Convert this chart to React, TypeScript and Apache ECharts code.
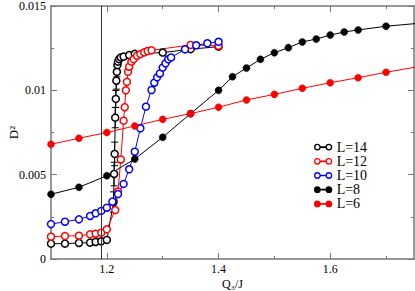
import React, { useEffect, useRef } from "react";
import * as echarts from "echarts";

// ---- data ----
const L14X = [1.1, 1.125, 1.15, 1.17, 1.18, 1.19, 1.2, 1.212, 1.213, 1.214, 1.215, 1.216, 1.217, 1.218, 1.219, 1.22, 1.222, 1.225, 1.23, 1.24, 1.25, 1.3, 1.35, 1.4];
const L14Y = [0.00091, 0.00091, 0.00095, 0.00097, 0.00101, 0.00105, 0.00113, 0.00338, 0.00504, 0.00623, 0.00838, 0.00949, 0.01057, 0.0111, 0.0115, 0.0117, 0.01185, 0.01195, 0.012, 0.01209, 0.01216, 0.01224, 0.01244, 0.01259];
const L14E = [0, 0, 0, 0, 0, 0, 0, 0.0006, 0.0007, 0.0007, 0.0006, 0.0005, 0.0005, 0.0003, 0, 0, 0, 0, 0, 0, 0, 0, 0, 0];

const L12X = [1.1, 1.125, 1.15, 1.17, 1.18, 1.19, 1.2, 1.215, 1.22, 1.225, 1.23, 1.232, 1.234, 1.236, 1.238, 1.24, 1.244, 1.248, 1.254, 1.26, 1.267, 1.273, 1.28, 1.35, 1.4];
const L12Y = [0.00132, 0.00136, 0.00138, 0.00146, 0.0015, 0.00156, 0.00176, 0.0029, 0.004, 0.0059, 0.0082, 0.009, 0.01, 0.0105, 0.0111, 0.0114, 0.0117, 0.01185, 0.01205, 0.01215, 0.01225, 0.01233, 0.01237, 0.01269, 0.01264];

const L10X = [1.1, 1.125, 1.15, 1.17, 1.18, 1.19, 1.2, 1.21, 1.22, 1.23, 1.24, 1.25, 1.26, 1.27, 1.28, 1.285, 1.29, 1.295, 1.3, 1.305, 1.31, 1.315, 1.34, 1.36, 1.38, 1.4];
const L10Y = [0.00207, 0.00221, 0.00235, 0.00255, 0.00271, 0.00285, 0.00304, 0.0034, 0.00385, 0.00445, 0.00532, 0.00636, 0.00775, 0.00903, 0.01002, 0.01045, 0.01077, 0.011, 0.01135, 0.0116, 0.01184, 0.01195, 0.01243, 0.01267, 0.01279, 0.01288];

const L8X = [1.1, 1.15, 1.2, 1.25, 1.3, 1.35, 1.4, 1.425, 1.45, 1.475, 1.5, 1.525, 1.55, 1.575, 1.6, 1.625, 1.65, 1.7, 1.8];
const L8Y = [0.00384, 0.00425, 0.00494, 0.00593, 0.00722, 0.00862, 0.01, 0.01081, 0.01132, 0.01184, 0.01223, 0.01253, 0.01287, 0.01304, 0.01328, 0.01346, 0.01358, 0.0138, 0.0141];

const L6X = [1.1, 1.15, 1.2, 1.25, 1.3, 1.35, 1.4, 1.45, 1.5, 1.55, 1.6, 1.65, 1.7, 1.8];
const L6Y = [0.0068, 0.00716, 0.0075, 0.00789, 0.00828, 0.00862, 0.009, 0.00943, 0.00976, 0.01012, 0.01045, 0.01075, 0.01107, 0.01165];

const LEGEND_NAMES = ["L=14", "L=12", "L=10", "L=8", "L=6"];
const X_MAJOR = [1.2, 1.4, 1.6];
const X_MINOR = [1.3, 1.5, 1.7];
const VLINE_X = 1.1936;

const FONT = "'Liberation Serif', 'Times New Roman', serif";
const AXIS_COLOR = "#777";
const LEGEND_ICON =
  "path://M0.4,3a2.6,2.6 0 1,0 5.2,0a2.6,2.6 0 1,0 -5.2,0ZM11.4,3a2.6,2.6 0 1,0 5.2,0a2.6,2.6 0 1,0 -5.2,0ZM5.6,2.8h5.8v0.4h-5.8Z";

const zip = (xs: number[], ys: number[]) => xs.map((x, i) => [x, ys[i]]);

function openSeries(name: string, xs: number[], ys: number[], color: string, extra: any = {}) {
  return {
    name,
    type: "line",
    data: zip(xs, ys),
    symbol: "circle",
    symbolSize: 7,
    showSymbol: true,
    lineStyle: { color, width: 1 },
    itemStyle: { color: "#fff", borderColor: color, borderWidth: 1.5 },
    clip: true,
    ...extra,
  };
}

function filledSeries(name: string, xs: number[], ys: number[], color: string) {
  return {
    name,
    type: "line",
    data: zip(xs, ys),
    symbol: "circle",
    symbolSize: 7,
    lineStyle: { color, width: 1 },
    itemStyle: { color, borderColor: color, borderWidth: 0.5 },
    clip: true,
  };
}

export default function App() {
  const ref = useRef<HTMLDivElement>(null);
  useEffect(() => {
    const chart = echarts.init(ref.current!, null, { renderer: "svg" });
    const errData = L14X.map((x, i) => [x, L14Y[i] - L14E[i], L14Y[i] + L14E[i], L14E[i]]).filter((d) => d[3] > 0);

    const baseX = {
      type: "value",
      min: 1.1,
      max: 1.75,
      gridIndex: 0,
      splitLine: { show: false },
    };

    const option: any = {
      animation: false,
      backgroundColor: "#fff",
      grid: { left: 51, right: 1, top: 6, bottom: 32, containLabel: false, outerBoundsMode: "none" },
      legend: {
        data: LEGEND_NAMES,
        orient: "vertical",
        left: 309,
        top: 135,
        icon: LEGEND_ICON,
        itemWidth: 17,
        itemHeight: 6,
        itemGap: 0,
        itemTextGap: 6,
        itemStyle: { borderWidth: 1.3 },
        textStyle: { fontFamily: FONT, fontSize: 14, color: "#000", lineHeight: 14.2 },
      },
      xAxis: [
        {
          ...baseX,
          position: "bottom",
          axisLine: { show: true, lineStyle: { color: AXIS_COLOR, width: 1.5 } },
          axisTick: { show: true, inside: true, length: 6, customValues: X_MAJOR, lineStyle: { color: AXIS_COLOR } },
          axisLabel: {
            show: true,
            customValues: X_MAJOR,
            formatter: (v: number) => v.toFixed(1),
            margin: 4,
            fontFamily: FONT,
            fontSize: 12,
            color: "#000",
          },
          name: "Q₃/J",
          nameLocation: "middle",
          nameGap: 19,
          nameMoveOverlap: false,
          nameTextStyle: { fontFamily: FONT, fontSize: 12, color: "#000" },
        },
        {
          ...baseX,
          position: "bottom",
          axisLine: { show: false },
          axisTick: { show: true, inside: true, length: 3, customValues: X_MINOR, lineStyle: { color: AXIS_COLOR } },
          axisLabel: { show: false },
        },
        {
          ...baseX,
          position: "top",
          axisLine: { show: true, lineStyle: { color: AXIS_COLOR, width: 1.5 } },
          axisTick: { show: true, inside: true, length: 6, customValues: X_MAJOR, lineStyle: { color: AXIS_COLOR } },
          axisLabel: { show: false },
        },
        {
          ...baseX,
          position: "top",
          axisLine: { show: false },
          axisTick: { show: true, inside: true, length: 3, customValues: X_MINOR, lineStyle: { color: AXIS_COLOR } },
          axisLabel: { show: false },
        },
      ],
      yAxis: [
        {
          type: "value",
          min: 0,
          max: 0.015,
          interval: 0.005,
          position: "left",
          splitLine: { show: false },
          axisLine: { show: true, lineStyle: { color: AXIS_COLOR, width: 1.5 } },
          axisTick: { show: true, inside: true, length: 6, lineStyle: { color: AXIS_COLOR } },
          minorTick: { show: true, splitNumber: 2, length: 3, lineStyle: { color: AXIS_COLOR } },
          axisLabel: {
            formatter: (v: number) => (v === 0 ? "0" : String(+v.toFixed(3))),
            margin: 5,
            fontFamily: FONT,
            fontSize: 12,
            color: "#000",
          },
          name: "D²",
          nameLocation: "middle",
          nameGap: 31,
          nameMoveOverlap: false,
          nameTextStyle: { fontFamily: FONT, fontSize: 13, color: "#000" },
        },
        {
          type: "value",
          min: 0,
          max: 0.015,
          interval: 0.005,
          position: "right",
          splitLine: { show: false },
          axisLine: { show: true, lineStyle: { color: AXIS_COLOR, width: 1.5 } },
          axisTick: { show: true, inside: true, length: 6, lineStyle: { color: AXIS_COLOR } },
          minorTick: { show: true, splitNumber: 2, length: 3, lineStyle: { color: AXIS_COLOR } },
          axisLabel: { show: false },
        },
      ],
      series: [
        {
          name: "err14",
          type: "custom",
          data: errData,
          z: 1,
          renderItem: (params: any, api: any) => {
            const x = api.value(0);
            const lo = api.coord([x, api.value(1)]);
            const hi = api.coord([x, api.value(2)]);
            const st = { stroke: "#000", lineWidth: 1 };
            return {
              type: "group",
              children: [
                { type: "line", shape: { x1: hi[0], y1: hi[1], x2: lo[0], y2: lo[1] }, style: st },
                { type: "line", shape: { x1: hi[0] - 3.5, y1: hi[1], x2: hi[0] + 3.5, y2: hi[1] }, style: st },
                { type: "line", shape: { x1: lo[0] - 3.5, y1: lo[1], x2: lo[0] + 3.5, y2: lo[1] }, style: st },
              ],
            };
          },
        },
        openSeries("L=14", L14X, L14Y, "#000", {
          markLine: {
            silent: true,
            symbol: ["none", "none"],
            label: { show: false },
            lineStyle: { color: "#333", width: 1, type: "solid" },
            data: [{ xAxis: VLINE_X }],
          },
        }),
        openSeries("L=12", L12X, L12Y, "#ff0000"),
        openSeries("L=10", L10X, L10Y, "#0000ff"),
        filledSeries("L=8", L8X, L8Y, "#000"),
        filledSeries("L=6", L6X, L6Y, "#ff0000"),
      ],
    };
    chart.setOption(option);
    return () => chart.dispose();
  }, []);

  return <div ref={ref} style={{ width: 415, height: 291, position: "absolute", left: 0, top: 0 }} />;
}
